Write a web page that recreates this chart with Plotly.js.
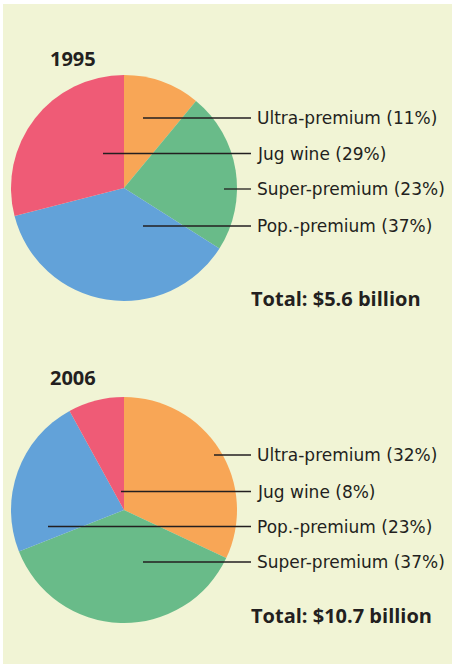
<!DOCTYPE html>
<html>
<head>
<meta charset="utf-8">
<script src="https://cdn.plot.ly/plotly-3.0.1.min.js"></script>
<style>
html,body{margin:0;padding:0;background:#ffffff;}
#chart{width:453px;height:665px;}
</style>
</head>
<body>
<div id="chart"></div>
<script>
// ---- data ----
var categories = ["Ultra-premium", "Super-premium", "Pop.-premium", "Jug wine"];
var share1995 = [11, 23, 37, 29];
var share2006 = [32, 37, 23, 8];
var years = ["1995", "2006"];
var totals = ["Total: $5.6 billion", "Total: $10.7 billion"];
// label order as listed next to each pie (top to bottom)
var labelOrder1995 = ["Ultra-premium", "Jug wine", "Super-premium", "Pop.-premium"];
var labelOrder2006 = ["Ultra-premium", "Jug wine", "Pop.-premium", "Super-premium"];

// ---- style ----
var colors = ["#F8A656", "#69BB89", "#62A2D9", "#EF5B76"];
var bg = "#F1F4D5";
var ink = "#231F20";
var W = 453, H = 665;
var R = 113, CX = 124;
var centers = [188, 510];            // pixel y of pie centers
var labelY = [[118, 153.5, 189, 226], [455, 491.5, 526.5, 562]];
var lineStartX = [[143, 103, 224, 143], [214, 121, 48, 143]];
var lineEndX = 251, labelX = 255;

function shareOf(year, name) {
  var arr = year === 0 ? share1995 : share2006;
  return arr[categories.indexOf(name)];
}

var traces = [share1995, share2006].map(function (vals, i) {
  var cyFromBottom = H - centers[i];
  return {
    type: "pie",
    labels: categories,
    values: vals,
    sort: false,
    direction: "clockwise",
    rotation: 0,
    textinfo: "none",
    hoverinfo: "label+percent",
    marker: { colors: colors, line: { width: 0 } },
    showlegend: false,
    domain: {
      x: [(CX - R) / W, (CX + R) / W],
      y: [(cyFromBottom - R) / H, (cyFromBottom + R) / H]
    }
  };
});

var shapes = [
  { type: "rect", xref: "x", yref: "y", x0: 3, x1: 452, y0: 4, y1: 664,
    fillcolor: bg, line: { width: 0 }, layer: "below" }
];
var annotations = [];
[labelOrder1995, labelOrder2006].forEach(function (order, i) {
  order.forEach(function (name, k) {
    var y = labelY[i][k];
    shapes.push({ type: "line", xref: "x", yref: "y",
      x0: lineStartX[i][k], x1: lineEndX, y0: y, y1: y,
      line: { color: ink, width: 1.3 }, layer: "above" });
    annotations.push({ xref: "x", yref: "y", x: labelX, y: y,
      xanchor: "left", yanchor: "middle", showarrow: false,
      text: name + " (" + shareOf(i, name) + "%)",
      font: { family: "DejaVu Sans", size: 17, color: ink } });
  });
  annotations.push({ xref: "x", yref: "y", x: 48, y: i === 0 ? 58.5 : 377.5,
    xanchor: "left", yanchor: "middle", showarrow: false,
    text: "<b>" + years[i] + "</b>",
    font: { family: "Open Sans", size: 20, color: ink } });
  annotations.push({ xref: "x", yref: "y", x: 249, y: i === 0 ? 298 : 615,
    xanchor: "left", yanchor: "middle", showarrow: false,
    text: "<b>" + totals[i] + "</b>",
    font: { family: "Open Sans", size: 20, color: ink } });
});

var layout = {
  width: W, height: H,
  margin: { l: 0, r: 0, t: 0, b: 0 },
  paper_bgcolor: "#ffffff",
  plot_bgcolor: "rgba(0,0,0,0)",
  xaxis: { range: [0, W], visible: false, fixedrange: true },
  yaxis: { range: [H, 0], visible: false, fixedrange: true },
  shapes: shapes,
  annotations: annotations,
  showlegend: false
};

Plotly.newPlot("chart", traces, layout, { displayModeBar: false, staticPlot: true });
</script>
</body>
</html>
